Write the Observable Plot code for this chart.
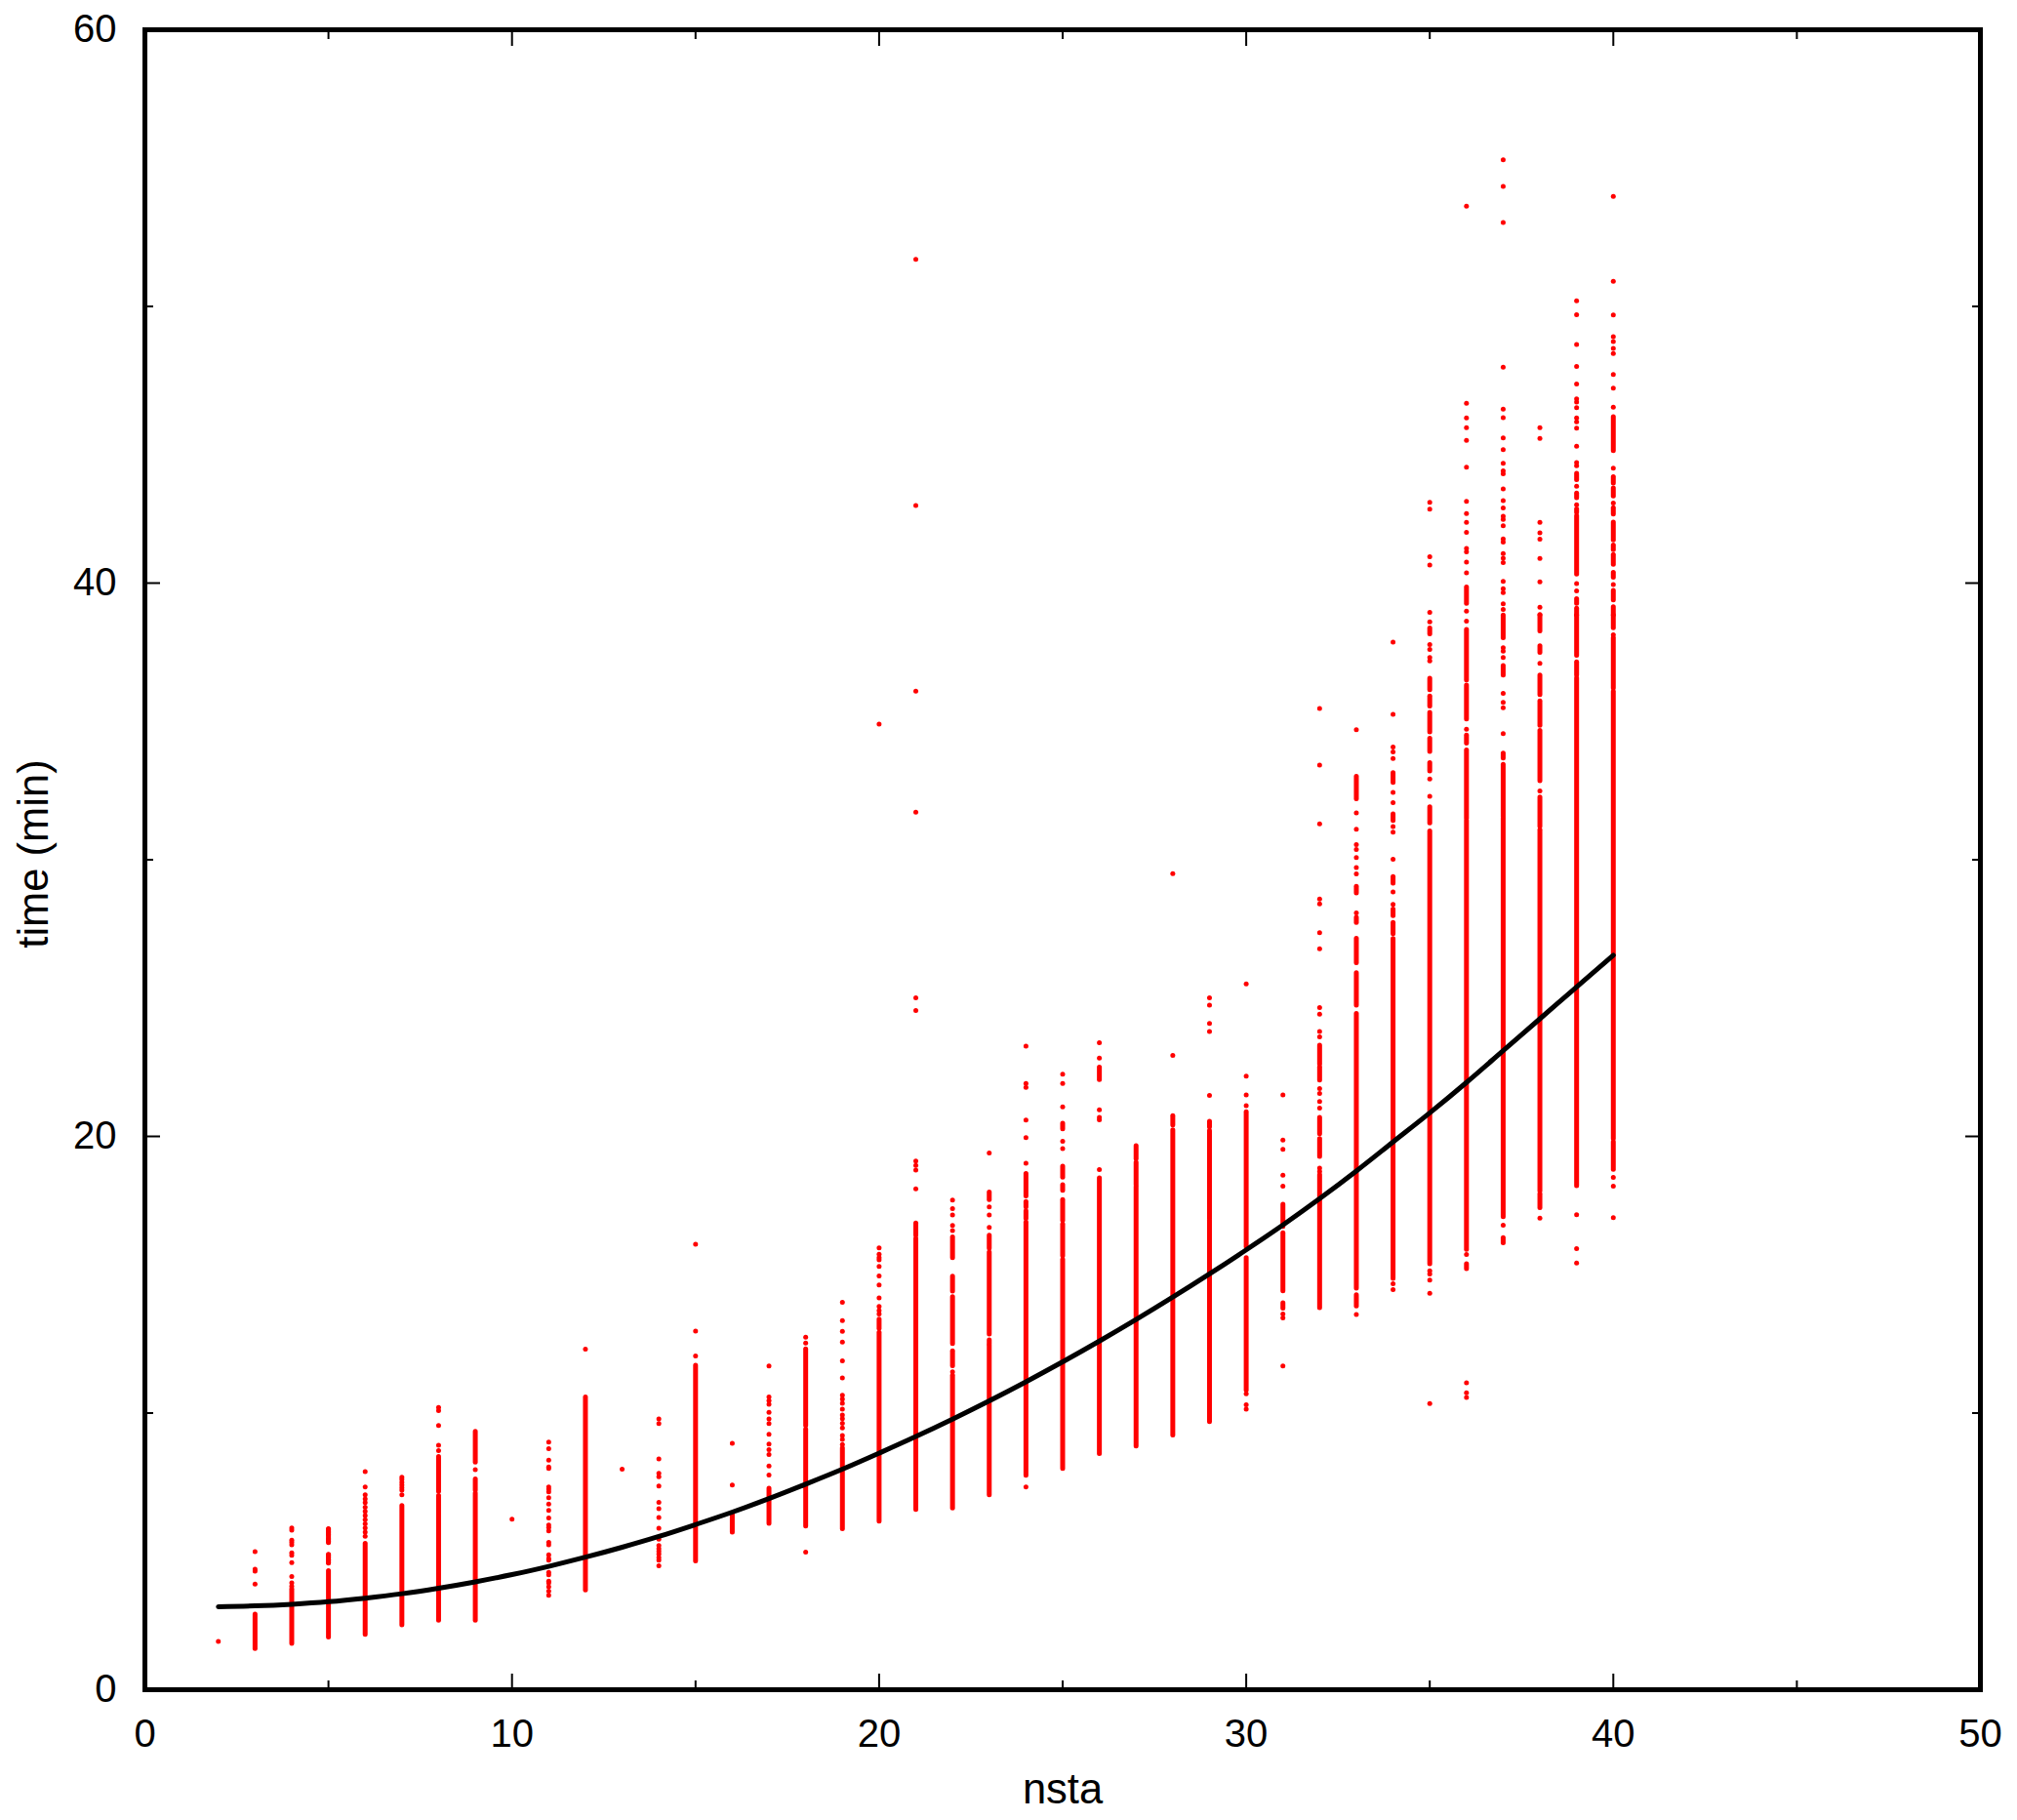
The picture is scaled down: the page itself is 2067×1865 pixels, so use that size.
<!DOCTYPE html>
<html>
<head>
<meta charset="utf-8">
<script src="https://cdn.jsdelivr.net/npm/d3@7"></script>
<script src="https://cdn.jsdelivr.net/npm/@observablehq/plot@0.6"></script>
<style>
html,body{margin:0;padding:0;background:#fff}
svg{display:block}
</style>
</head>
<body>
<div id="chart"></div>
<script>
// Isolated points: [nsta, times...]
const isolated = [
  [2, 1.75],
  [3, 4.99, 4.36, 4.29, 3.82],
  [4, 5.85, 5.77, 5.41, 5.33, 5.24, 4.95, 4.86, 4.59, 4.09, 3.86, 3.74],
  [5, 5.8, 5.7, 5.6, 5.45, 5.35, 4.88, 4.8, 4.7, 4.6],
  [6, 7.88, 7.33, 7.05, 6.9, 6.76, 6.6, 6.45, 6.3, 6.15, 6.0, 5.85, 5.7, 5.55],
  [7, 7.68, 7.6, 7.5, 7.4, 7.3, 7.21, 7.05],
  [8, 10.2, 10.09, 9.55, 8.84, 8.64],
  [9, 7.95],
  [10, 6.16],
  [11, 8.95, 8.71, 8.3, 8.05, 8.0, 7.33, 7.25, 7.15, 6.94, 6.71, 6.48, 6.21, 5.95, 5.86, 5.74, 5.33, 5.24, 4.88, 4.74, 4.68, 4.24, 4.15, 3.92, 3.86, 3.72, 3.56, 3.41],
  [12, 12.31],
  [13, 7.97],
  [14, 9.79, 9.62, 8.34, 7.82, 7.7, 7.36, 6.77, 6.54, 6.23, 5.84, 5.44, 5.21, 5.1, 5.0, 4.9, 4.78, 4.68, 4.48],
  [15, 16.1, 12.96, 12.06],
  [16, 8.91, 7.4],
  [17, 11.7, 10.58, 10.45, 10.32, 10.03, 9.79, 9.62, 9.23, 8.88, 8.68, 8.5, 8.09, 7.76],
  [18, 12.74, 12.53, 4.97],
  [19, 14.0, 13.34, 12.95, 12.57, 11.89, 11.27, 10.64, 10.5, 10.35, 10.14, 9.93, 9.8, 9.63, 9.46, 9.19, 9.05, 8.86],
  [20, 34.9, 15.97, 15.74, 15.62, 15.54, 15.3, 14.96, 14.63, 14.16, 13.85, 13.7, 13.58],
  [21, 51.7, 42.8, 36.09, 31.72, 25.01, 24.55, 19.11, 18.95, 18.78, 18.1],
  [22, 17.7, 17.39, 17.16, 16.78, 16.6, 11.49],
  [23, 19.4, 17.45, 17.16, 16.71],
  [24, 23.26, 21.91, 21.77, 20.59, 19.96, 19.03, 7.33],
  [25, 22.25, 21.91, 21.07, 19.82, 19.56],
  [26, 23.39, 22.83, 20.96, 20.69, 20.6, 18.8],
  [28, 29.5, 22.93],
  [29, 25.01, 24.74, 24.08, 23.79, 21.48],
  [30, 25.51, 22.18, 21.5, 21.11, 10.7, 10.3, 10.14],
  [31, 21.5, 19.87, 19.53, 18.6, 18.2, 13.58, 13.44, 11.7],
  [32, 35.47, 33.42, 31.3, 28.58, 28.4, 27.36, 26.78, 24.66, 24.42, 23.79, 23.6, 21.73, 21.55, 21.26, 21.02, 18.85, 18.73],
  [33, 34.7, 31.69, 31.1, 30.55, 30.37, 30.08, 29.72, 29.49, 28.08, 13.56],
  [34, 37.87, 35.26, 34.07, 33.9, 33.66, 32.43, 32.06, 31.2, 31.0, 30.02, 28.84, 28.39, 14.67, 14.46],
  [35, 42.92, 42.67, 40.95, 40.65, 38.94, 38.6, 37.78, 37.6, 37.31, 37.19, 32.92, 32.29, 15.14, 15.03, 14.81, 14.33, 10.34],
  [36, 53.62, 46.5, 45.97, 45.62, 45.16, 44.19, 42.95, 42.51, 42.2, 41.83, 41.25, 41.13, 40.76, 40.37, 38.99, 38.62, 34.72, 15.73, 11.09, 10.73, 10.56],
  [37, 55.3, 54.34, 53.03, 47.8, 46.29, 45.98, 45.25, 44.82, 44.33, 44.06, 43.95, 43.4, 42.98, 42.72, 42.42, 42.3, 42.07, 41.6, 41.48, 41.07, 40.9, 40.74, 40.06, 39.8, 39.66, 39.25, 39.05, 37.66, 37.54, 37.31, 36.01, 35.69, 35.49, 34.56, 16.79],
  [38, 45.62, 45.23, 42.2, 41.82, 41.59, 40.89, 40.04, 39.13, 38.86, 37.1, 32.49, 17.05],
  [39, 50.2, 49.7, 48.62, 47.83, 47.2, 46.66, 46.54, 46.34, 45.97, 45.83, 45.6, 44.95, 44.36, 44.24, 43.5, 42.83, 39.98, 39.72, 17.17, 15.94, 15.42],
  [40, 53.98, 50.91, 49.69, 48.91, 48.73, 48.48, 48.3, 47.54, 47.05, 46.36, 44.15, 42.89, 39.95, 38.13, 18.52, 18.2, 17.06]
];

// Continuous runs of overlapping points: [nsta, low, high]
const runs = [
  [3, 1.47, 2.72], [4, 1.66, 3.62], [5, 5.3, 5.8], [5, 4.56, 4.88], [5, 1.89, 4.29], [6, 1.98, 5.27],
  [7, 2.33, 6.64], [8, 7.15, 8.41], [8, 2.5, 7.0], [9, 8.21, 9.32], [9, 7.2, 7.6], [9, 2.5, 7.09],
  [12, 3.59, 10.56], [15, 4.64, 11.71], [16, 5.68, 6.38], [17, 6.0, 7.27], [18, 9.53, 12.3], [18, 5.9, 9.4],
  [19, 5.8, 8.72], [20, 13.04, 13.38], [20, 6.08, 12.9], [21, 16.41, 16.85], [21, 6.5, 16.3],
  [22, 15.6, 16.35], [22, 14.39, 14.93], [22, 12.5, 14.19], [22, 11.69, 12.23], [22, 6.55, 11.35],
  [23, 17.7, 17.97], [23, 15.94, 16.41], [23, 12.84, 15.8], [23, 12.5, 12.63], [23, 7.03, 12.43],
  [24, 17.83, 18.64], [24, 17.43, 17.63], [24, 17.02, 17.29], [24, 7.73, 16.89],
  [25, 20.26, 20.46], [25, 18.51, 18.91], [25, 18.03, 18.24], [25, 16.95, 17.7], [25, 15.67, 16.82], [25, 7.98, 15.54],
  [26, 22.04, 22.49], [26, 8.52, 18.48],
  [27, 19.18, 19.65], [27, 18.24, 19.05], [27, 8.79, 18.17],
  [28, 20.4, 20.73], [28, 9.19, 20.22],
  [29, 20.33, 20.53], [29, 17.02, 20.19], [29, 9.67, 16.95],
  [30, 16.0, 20.87], [30, 10.81, 15.6],
  [31, 16.73, 17.53], [31, 14.4, 16.5], [31, 13.77, 13.97],
  [32, 22.6, 23.28], [32, 22.02, 22.5], [32, 20.08, 20.67], [32, 19.26, 19.9], [32, 13.79, 18.6],
  [33, 32.19, 33.0], [33, 28.78, 29.02], [33, 27.72, 27.9], [33, 26.26, 27.14], [33, 24.73, 25.9], [33, 14.5, 24.43], [33, 13.85, 14.26],
  [34, 32.78, 33.13], [34, 31.4, 31.64], [34, 29.14, 29.37], [34, 27.96, 28.2], [34, 27.31, 27.72], [34, 14.85, 27.13],
  [35, 38.15, 38.36], [35, 36.13, 36.54], [35, 35.54, 35.9], [35, 34.6, 35.31], [35, 33.9, 34.37], [35, 33.19, 33.49], [35, 31.31, 31.9], [35, 15.38, 31.02],
  [36, 39.25, 39.84], [36, 36.48, 38.31], [36, 35.07, 36.3], [36, 34.2, 34.49], [36, 31.49, 33.95], [36, 15.9, 31.4], [36, 15.2, 15.38],
  [37, 38.01, 38.83], [37, 36.66, 37.0], [37, 33.66, 33.84], [37, 31.55, 33.43], [37, 17.08, 31.48], [37, 16.14, 16.32],
  [38, 38.25, 38.83], [38, 37.48, 37.72], [38, 35.95, 36.66], [38, 34.84, 35.72], [38, 32.84, 34.66], [38, 31.19, 32.25], [38, 18.02, 31.07], [38, 17.41, 17.91],
  [39, 43.72, 43.95], [39, 43.07, 43.24], [39, 42.54, 42.66], [39, 40.31, 42.42], [39, 39.25, 39.42], [39, 38.84, 39.07], [39, 37.37, 38.83], [39, 36.66, 37.13], [39, 18.2, 36.55],
  [40, 44.77, 46.0], [40, 43.6, 43.83], [40, 43.13, 43.42], [40, 42.48, 42.71], [40, 41.54, 42.19], [40, 41.19, 41.36], [40, 40.66, 41.01], [40, 40.19, 40.37], [40, 39.37, 39.72], [40, 38.84, 39.13], [40, 38.37, 38.83], [40, 36.19, 38.01], [40, 19.9, 36.07], [40, 18.79, 19.79]
];

// Fitted curve read at each nsta
const curveNsta = [2,3,4,5,6,7,8,9,10,11,12,13,14,15,16,17,18,19,20,21,22,23,24,25,26,27,28,29,30,31,32,33,34,35,36,37,38,39,40];
const curveTime = [3.0,3.03,3.09,3.18,3.31,3.47,3.67,3.9,4.16,4.46,4.79,5.15,5.54,5.97,6.42,6.91,7.43,7.97,8.55,9.15,9.78,10.44,11.13,11.85,12.6,13.38,14.19,15.03,15.9,16.8,17.75,18.75,19.8,20.85,21.95,23.1,24.25,25.4,26.55];

const xLabelled = [0,10,20,30,40,50];
const xMinor = [5,15,25,35,45];
const yLabelled = [0,20,40,60];
const yMinor = [10,30,50];

const points = isolated.flatMap(([n, ...times]) => times.map(t => ({n, t})));
const curve = curveNsta.map((n, i) => ({n, t: curveTime[i]}));

const FONT = "'Liberation Sans', Arial, sans-serif";
const tickStyle = {stroke: "black", strokeWidth: 2, fill: "none", label: null};

const chart = Plot.plot({
  width: 2067,
  height: 1865,
  marginLeft: 148,
  marginRight: 38,
  marginTop: 30,
  marginBottom: 134,
  style: {fontFamily: FONT, fontSize: "40px", background: "white", color: "black"},
  x: {domain: [0, 50], label: null},
  y: {domain: [0, 60], label: null},
  marks: [
    Plot.ruleX(runs, {x: d => d[0], y1: d => d[1], y2: d => d[2], stroke: "#ff0000", strokeWidth: 5, strokeLinecap: "round"}),
    Plot.dot(points, {x: "n", y: "t", r: 2.5, fill: "#ff0000", stroke: "none"}),
    Plot.line(curve, {x: "n", y: "t", stroke: "black", strokeWidth: 5, curve: "catmull-rom"}),
    Plot.axisX(xLabelled, {anchor: "bottom", tickSize: -16, ...tickStyle}),
    Plot.axisX(xLabelled, {anchor: "top", tickSize: -16, ...tickStyle}),
    Plot.axisX(xMinor, {anchor: "bottom", tickSize: -9, ...tickStyle}),
    Plot.axisX(xMinor, {anchor: "top", tickSize: -9, ...tickStyle}),
    Plot.axisY(yLabelled, {anchor: "left", tickSize: -16, ...tickStyle}),
    Plot.axisY(yLabelled, {anchor: "right", tickSize: -16, ...tickStyle}),
    Plot.axisY(yMinor, {anchor: "left", tickSize: -9, ...tickStyle}),
    Plot.axisY(yMinor, {anchor: "right", tickSize: -9, ...tickStyle}),
    Plot.axisX(xLabelled, {anchor: "bottom", tickSize: 0, tickPadding: 30, fontSize: 40, label: null, tickFormat: d => String(d)}),
    Plot.axisY(yLabelled, {anchor: "left", tickSize: 0, tickPadding: 29, fontSize: 40, label: null, tickFormat: d => String(d)}),
    Plot.axisX([], {anchor: "bottom", tickSize: 0, fontSize: 43.5, label: "nsta", labelAnchor: "center", labelArrow: "none", labelOffset: 116}),
    Plot.text(["time (min)"], {frameAnchor: "left", textAnchor: "middle", rotate: -90, dx: -113, dy: -6, fontSize: 43.5, fill: "black"}),
    Plot.frame({stroke: "black", strokeWidth: 5})
  ]
});
document.getElementById("chart").appendChild(chart);
</script>
</body>
</html>
